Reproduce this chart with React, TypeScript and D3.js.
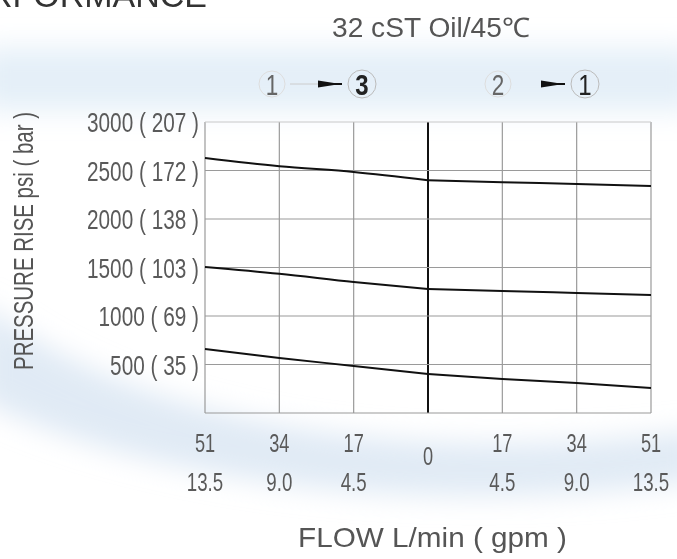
import React, { useEffect, useRef } from "react";
import * as d3 from "d3";

// flow in L/min; negative side = 1 -> 3, positive side = 2 -> 1
const flowTicks = [-51, -34, -17, 0, 17, 34, 51];
const gpmLabels = ["13.5", "9.0", "4.5", "", "4.5", "9.0", "13.5"];
const psiTicks = [0, 500, 1000, 1500, 2000, 2500, 3000];
const barLabels: Record<number, string> = { 500: "35", 1000: "69", 1500: "103", 2000: "138", 2500: "172", 3000: "207" };

const leftFlow = [-51, -34, -17, 0];
const rightFlow = [0, 17, 34, 51];
const curves = [
    { left: [2630, 2545, 2485, 2400], right: [2400, 2380, 2360, 2340] },
    { left: [1505, 1435, 1350, 1278], right: [1278, 1258, 1237, 1216] },
    { left: [660, 567, 485, 402], right: [402, 350, 309, 258] },
];

const W = 677;
const H = 559;
const margin = { top: 122, right: 26, bottom: 146, left: 205 };
const FONT = "'Liberation Sans', Arial, sans-serif";

type G = d3.Selection<SVGGElement, unknown, null, undefined>;

// narrow text: the reference uses a condensed face, so squeeze horizontally
const narrow = (g: G, x: number, y: number, txt: string, size: number, sx: number, anchor = "middle", fill = "#5a5a5a") =>
    g.append("text")
        .attr("transform", `translate(${x},${y}) scale(${sx},1)`)
        .attr("text-anchor", anchor)
        .attr("font-size", size)
        .attr("fill", fill)
        .text(txt);

const App: React.FC = () => {
    const svgRef = useRef<SVGSVGElement | null>(null);

    useEffect(() => {
        if (!svgRef.current) return;
        const svg = d3.select(svgRef.current);
        svg.selectAll("*").remove();

        const x = d3.scaleLinear().domain([-51, 51]).range([margin.left, W - margin.right]);
        const y = d3.scaleLinear().domain([0, 3000]).range([H - margin.bottom, margin.top]);

        // faint background wash
        const defs = svg.append("defs");
        defs.append("filter").attr("id", "blur").append("feGaussianBlur").attr("stdDeviation", 14);
        svg.append("rect").attr("width", W).attr("height", H).attr("fill", "#fff");
        const bg = svg.append("g").attr("filter", "url(#blur)");
        bg.append("rect").attr("x", -20).attr("y", 48).attr("width", W + 40).attr("height", 62).attr("fill", "#e4eff8");
        bg.append("path")
            .attr("d", "M-20,300 C120,420 400,470 700,430 L700,480 C420,520 140,480 -20,400 Z")
            .attr("fill", "#d5e3f1")
            .attr("opacity", 0.75);

        const root = svg.append("g").attr("font-family", FONT) as unknown as G;

        // cut-off heading
        root.append("text")
            .attr("x", 207).attr("y", 7)
            .attr("text-anchor", "end")
            .attr("font-size", 34)
            .attr("fill", "#333")
            .text("PERFORMANCE");

        root.append("text")
            .attr("x", 332).attr("y", 37)
            .attr("font-size", 27)
            .attr("fill", "#555")
            .attr("textLength", 198)
            .attr("lengthAdjust", "spacingAndGlyphs")
            .text("32 cST Oil/45℃");

        // direction legend
        const legend = [
            { from: "1", to: "3", x1: 272, x2: 362, line: true },
            { from: "2", to: "1", x1: 498, x2: 585, line: false },
        ];
        const cy = 84;
        legend.forEach((d) => {
            root.append("circle").attr("cx", d.x1).attr("cy", cy).attr("r", 13).attr("fill", "none").attr("stroke", "#ddd");
            root.append("circle").attr("cx", d.x2).attr("cy", cy).attr("r", 14).attr("fill", "none").attr("stroke", "#bbb");
            narrow(root, d.x1, cy + 11, d.from, 30, 0.75, "middle", "#666");
            narrow(root, d.x2, cy + 11, d.to, 30, 0.8, "middle", "#222").attr("font-weight", d.to === "3" ? "bold" : null);
            if (d.line) {
                root.append("line").attr("x1", d.x1 + 18).attr("x2", d.x2 - 40).attr("y1", cy).attr("y2", cy).attr("stroke", "#ccc");
            }
            root.append("path")
                .attr("d", `M${d.x2 - 44},${cy - 3.5} L${d.x2 - 28},${cy - 1} L${d.x2 - 20},${cy - 1} L${d.x2 - 20},${cy + 1} L${d.x2 - 28},${cy + 1} L${d.x2 - 44},${cy + 3.5} Z`)
                .attr("fill", "#111");
        });

        // grid
        const grid = svg.append("g").attr("stroke", "#9a9a9a").attr("stroke-width", 1.2);
        grid.selectAll("line.v")
            .data(flowTicks)
            .join("line")
            .attr("x1", (d) => x(d)).attr("x2", (d) => x(d))
            .attr("y1", y(3000)).attr("y2", y(0))
            .attr("stroke", (d) => (d === 0 ? "#111" : null))
            .attr("stroke-width", (d) => (d === 0 ? 2 : null));
        grid.selectAll("line.h")
            .data(psiTicks)
            .enter()
            .append("line")
            .attr("x1", x(-51)).attr("x2", x(51))
            .attr("y1", (d) => y(d)).attr("y2", (d) => y(d))
            .attr("stroke", (d) => (d === 3000 ? "#c8c8c8" : null));

        // y tick labels
        psiTicks
            .filter((d) => d > 0)
            .forEach((d) => narrow(root, margin.left - 6, y(d) + 10, `${d} ( ${barLabels[d]} )`, 27, 0.77, "end"));

        // x tick labels
        flowTicks.forEach((d, i) => {
            narrow(root, x(d), d === 0 ? 465 : 452, String(Math.abs(d)), 26, 0.7);
            if (gpmLabels[i]) narrow(root, x(d), 491, gpmLabels[i], 26, 0.72);
        });

        // axis titles
        root.append("text")
            .attr("x", 298).attr("y", 547)
            .attr("font-size", 28)
            .attr("fill", "#555")
            .attr("textLength", 269)
            .attr("lengthAdjust", "spacingAndGlyphs")
            .text("FLOW L/min ( gpm )");
        root.append("text")
            .attr("transform", `translate(33,370) rotate(-90)`)
            .attr("font-size", 28)
            .attr("fill", "#555")
            .attr("textLength", 258)
            .attr("lengthAdjust", "spacingAndGlyphs")
            .text("PRESSURE RISE psi ( bar )");

        // curves
        const line = d3
            .line<[number, number]>()
            .x((d) => x(d[0]))
            .y((d) => y(d[1]))
            .curve(d3.curveMonotoneX);
        const cg = svg.append("g").attr("fill", "none").attr("stroke", "#111").attr("stroke-width", 2);
        curves.forEach((c) => {
            cg.append("path").attr("d", line(leftFlow.map((f, i) => [f, c.left[i]] as [number, number])));
            cg.append("path").attr("d", line(rightFlow.map((f, i) => [f, c.right[i]] as [number, number])));
        });
    }, []);

    return (
        <svg
            ref={svgRef}
            width={W}
            height={H}
            style={{ position: "absolute", left: 0, top: 0, display: "block" }}
        />
    );
};

export default App;
